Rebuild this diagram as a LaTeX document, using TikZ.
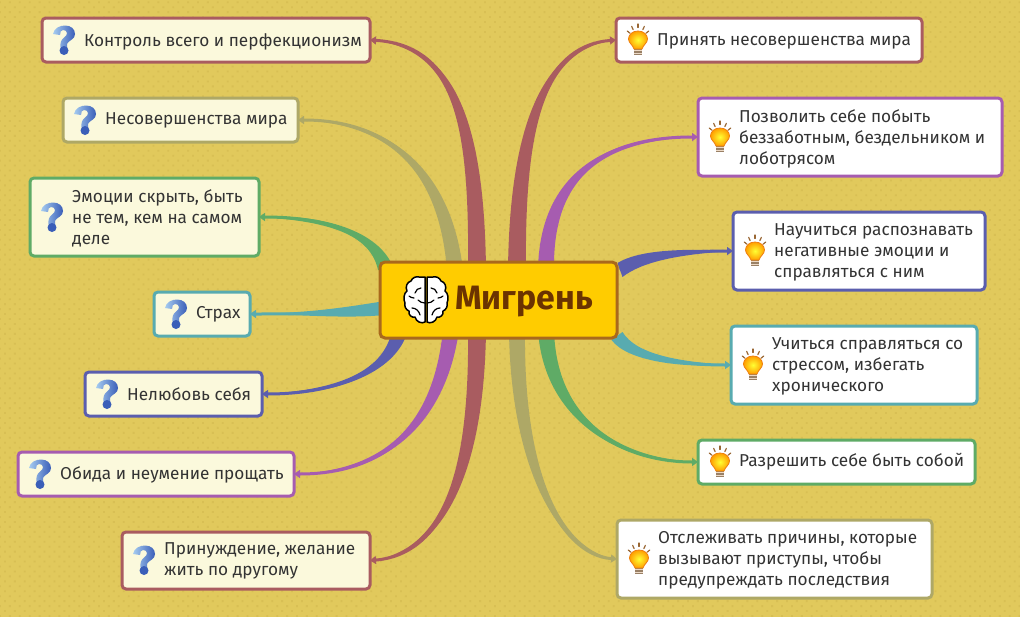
\documentclass[tikz,border=0pt]{standalone}
\usepackage{fontspec}
\setmainfont{Fira Sans}
\usetikzlibrary{calc,arrows.meta,patterns.meta}
\definecolor{bgc}{HTML}{E1C95C}
\definecolor{bgd}{HTML}{D8BF54}
\definecolor{cred}{HTML}{A95C60}
\definecolor{colive}{HTML}{AEA866}
\definecolor{cgreen}{HTML}{5FAB66}
\definecolor{cteal}{HTML}{58ABB0}
\definecolor{cblue}{HTML}{5B5EAE}
\definecolor{cpurple}{HTML}{A65CB0}
\definecolor{cream}{HTML}{FBF9DC}
\definecolor{txtc}{HTML}{333333}
\definecolor{qlight}{HTML}{A6CCF0}
\definecolor{qdark}{HTML}{3A5EB8}
\tikzset{
  leafbox/.style={draw, rounded corners=4pt, line width=3pt, inner sep=0pt, outer sep=0pt},
  leaftext/.style={anchor=west, align=left, inner sep=0pt, text=txtc, font=\fontsize{17.2}{21}\selectfont},
  tailtip/.style={-{Triangle[length=6pt,width=8pt]}, line width=3pt},
  pics/qmark/.style={code={
    \shade[left color=qlight, right color=qdark]
      (-11,-6) .. controls (-10,-12) and (-4,-14.5) .. (1,-14.5)
      .. controls (7,-14.5) and (11,-11) .. (11,-6)
      .. controls (11,-1) and (6,0) .. (3.5,3)
      .. controls (3,4) and (3,5) .. (3,7) -- (-3.5,7)
      .. controls (-4,3) and (-3,0) .. (0,-2.5)
      .. controls (2,-4) and (3,-5) .. (3,-7)
      .. controls (3,-9) and (1,-10) .. (-1,-10)
      .. controls (-3,-10) and (-4,-8) .. (-4,-5) -- cycle;
    \fill[qdark] (0,10.5) circle (4.5);
  }},
  pics/bulb/.style={code={
    \foreach \a/\l in {-140/9,-115/10,-90/11,-65/10,-40/9}{
      \draw[line width=1.2pt, brown!80!black, line cap=round] (\a:\l+1.5) -- (\a:\l+5);
    }
    \fill[gray!60!brown] (-4,8) rectangle (4,15);
    \draw[line width=1pt, white!70!brown] (-4,10.5) -- (4,10.5) (-4,13) -- (4,13);
    \shade[inner color=yellow!80!white, outer color=orange!75!yellow, draw=orange!75!brown, line width=.8pt]
      (0,-9) .. controls (-6,-9) and (-9.5,-5) .. (-9.5,-1)
      .. controls (-9.5,3) and (-5,5) .. (-4,9) -- (4,9)
      .. controls (5,5) and (9.5,3) .. (9.5,-1)
      .. controls (9.5,-5) and (6,-9) .. (0,-9) -- cycle;
  }},
  pics/brainside/.style={code={
    \draw[fill=white, line width=1.5pt, line join=round]
      (-1,-23) -- (-7,-23) .. controls (-10,-24) and (-14,-22) .. (-15,-19)
      .. controls (-19,-18) and (-21,-13) .. (-19,-9)
      .. controls (-22,-7) and (-23,-1) .. (-21,3)
      .. controls (-22,6) and (-20,10) .. (-17,11)
      .. controls (-18,15) and (-14,18) .. (-11,17)
      .. controls (-10,22) and (-4,24) .. (-1,22) -- cycle;
    \draw[line width=1.2pt, line cap=round]
      (-5,-12) .. controls (-8,-12) and (-10,-10) .. (-11,-7)
      (-12,-2) .. controls (-14,-2) and (-16,-3) .. (-17,-4)
      (-1,3) .. controls (-4,3) and (-6,2) .. (-8,0)
      (-6,15) .. controls (-7,11) and (-10,8) .. (-14,8);
  }},
}
% name, x1, y1, x2, y2, border colour, fill
\newcommand{\leafbox}[7]{%
  \pgfmathsetmacro{\bw}{#4-#2-2}\pgfmathsetmacro{\bh}{#5-#3-2}%
  \pgfmathsetmacro{\bx}{(#2+#4)/2}\pgfmathsetmacro{\by}{(#3+#5)/2}%
  \node[leafbox, draw=#6, fill=#7, minimum width=\bw pt, minimum height=\bh pt] (#1) at (\bx,\by) {};}
% colour, start, start half-width, control 1, control 2, end half-width at control 2, end
\newcommand{\branch}[7]{%
  \fill[#1] ($(#2)+(#3)$) .. controls ($(#4)+0.8*(#3)$) and ($(#5)+(#6)$) .. (#7)
    .. controls ($(#5)-(#6)$) and ($(#4)-0.8*(#3)$) .. ($(#2)-(#3)$) -- cycle;
  \draw[tailtip, draw=#1] (#2) .. controls (#4) and (#5) .. (#7);}
\begin{document}
\begin{tikzpicture}[x=1pt,y=-1pt]
\useasboundingbox (0,0) rectangle (1020,616);
\fill[bgc] (-2,-2) rectangle (1022,618);
\fill[pattern={Dots[distance=7pt,radius=1.3pt,angle=45]}, pattern color=bgd] (-2,-2) rectangle (1022,618);

\leafbox{l1}{41}{17}{371}{63}{cred}{cream}
\leafbox{l2}{62}{97}{299}{143}{colive}{cream}
\leafbox{l3}{29}{177}{260}{257}{cgreen}{cream}
\leafbox{l4}{153}{291}{251}{337}{cteal}{cream}
\leafbox{l5}{84}{371}{263}{417}{cblue}{cream}
\leafbox{l6}{17}{451}{295}{497}{cpurple}{cream}
\leafbox{l7}{121}{531}{371}{590}{cred}{cream}
\leafbox{r1}{615}{17}{923}{63}{cred}{white}
\leafbox{r2}{697}{97}{1003}{177}{cpurple}{white}
\leafbox{r3}{732}{211}{986}{291}{cblue}{white}
\leafbox{r4}{730}{325}{978}{405}{cteal}{white}
\leafbox{r5}{697}{439}{976}{485}{cgreen}{white}
\leafbox{r6}{616}{519}{933}{599}{colive}{white}

\coordinate (s1) at (477,270);
\coordinate (s2) at (455,270);
\coordinate (s3) at (386,270);
\coordinate (s4) at (385,308);
\coordinate (s5) at (400,330);
\coordinate (s6) at (451,330);
\coordinate (s7) at (477,330);
\coordinate (t1) at (517,270);
\coordinate (t2) at (546,270);
\coordinate (t3) at (620,270);
\coordinate (t4) at (617,336);
\coordinate (t5) at (546,330);
\coordinate (t6) at (517,330);

\branch{cred}{s1}{9,0}{477,110}{450,45}{0,-3}{l1.east}
\branch{colive}{s2}{8,0}{445,170}{390,120}{0,-3}{l2.east}
\branch{cgreen}{s3}{8,0}{377,235}{330,217}{0,-4}{l3.east}
\branch{cteal}{s4}{0,7}{345,313}{310,314}{0,1}{l4.east}
\branch{cblue}{s5}{8,0}{390,375}{330,394}{0,3}{l5.east}
\branch{cpurple}{s6}{8,0}{440,420}{390,474}{0,3}{l6.east}
\branch{cred}{s7}{9,0}{477,480}{440,555}{0,3}{l7.east}
\branch{cred}{t1}{9,0}{517,110}{550,45}{0,3}{r1.west}
\branch{cpurple}{t2}{8,0}{546,170}{610,137}{0,3}{r2.west}
\branch{cblue}{t3}{2.5,7}{640,256}{680,251}{0,3}{r3.west}
\branch{cteal}{t4}{5.5,-4}{632,358}{680,365}{0,-3}{r4.west}
\branch{cgreen}{t5}{8,0}{550,420}{620,462}{0,-3}{r5.west}
\branch{colive}{t6}{8,0}{517,470}{560,555}{0,-3}{r6.west}

\node[draw={rgb,255:red,169;green,105;blue,28}, fill={rgb,255:red,255;green,204;blue,0}, rounded corners=5pt, line width=3pt,
  minimum width=237pt, minimum height=76pt, inner sep=0pt] (root) at (498.5,300) {};
\node[anchor=west, inner sep=0pt, text={rgb,255:red,107;green,51;blue,0}, font=\fontsize{33.8}{36}\selectfont\bfseries] (roottext) at (455,302) {Мигрень};
\pic at (426,300) {brainside};
\pic[xscale=-1] at (426,300) {brainside};

\node[leaftext] (tl1) at (84,41.5) {Контроль всего и перфекционизм};
\node[leaftext] (tl2) at (105,120.5) {Несовершенства мира};
\node[leaftext] (tl3) at (72,218) {Эмоции скрыть, быть\\не тем, кем на самом\\деле};
\node[leaftext] (tl4) at (196,314.5) {Страх};
\node[leaftext] (tl5) at (127,394.5) {Нелюбовь себя};
\node[leaftext] (tl6) at (60,474.5) {Обида и неумение прощать};
\node[leaftext] (tl7) at (164,561) {Принуждение, желание\\жить по другому};
\node[leaftext] (tr1) at (657,41.5) {Принять несовершенства мира};
\node[leaftext] (tr2) at (739,138.5) {Позволить себе побыть\\беззаботным, бездельником и\\лоботрясом};
\node[leaftext] (tr3) at (774,252) {Научиться распознавать\\негативные эмоции и\\справляться с ним};
\node[leaftext] (tr4) at (772,366) {Учиться справляться со\\стрессом, избегать\\хронического};
\node[leaftext] (tr5) at (739,461.5) {Разрешить себе быть собой};
\node[leaftext] (tr6) at (658,560) {Отслеживать причины, которые\\вызывают приступы, чтобы\\предупреждать последствия};

\pic at (64,40) {qmark};
\pic at (85,120) {qmark};
\pic at (52,217) {qmark};
\pic at (176,314) {qmark};
\pic at (107,394) {qmark};
\pic at (40,474) {qmark};
\pic at (144,560) {qmark};
\pic at (638,40) {bulb};
\pic at (720,137) {bulb};
\pic at (755,251) {bulb};
\pic at (753,365) {bulb};
\pic at (720,462) {bulb};
\pic at (639,559) {bulb};
\end{tikzpicture}
\end{document}
